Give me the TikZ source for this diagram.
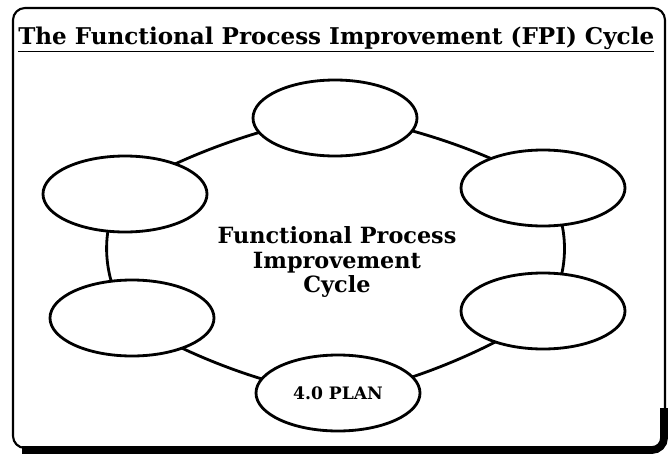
\documentclass[tikz,border=0pt]{standalone}
\usepackage{fontspec}
\setmainfont{DejaVu Serif}
\usetikzlibrary{shapes.geometric,backgrounds}
\begin{document}
\begin{tikzpicture}[
	stage/.style={ellipse,draw,line width=2pt,fill=white,minimum width=4.1cm,minimum height=1.9cm,inner sep=0pt,font=\bfseries\fontsize{12.2}{14}\selectfont},
	ring/.style={line width=2pt},
	frame/.style={line width=1.5pt,rounded corners=0.3cm}]
		\useasboundingbox (0,0) rectangle (16.725,-11.375);
		\draw[frame] (0.325,-0.2) rectangle (16.625,-11.2);
		\draw[line width=5.5pt,rounded corners=0.3cm] (0.55,-11.25) -- (16.6,-11.25) -- (16.6,-10.2);
		
		\node[anchor=base west,inner sep=0pt,font=\bfseries\fontsize{16.4}{18}\selectfont] (title) at (0.45,-1.1) {\underline{The Functional Process Improvement (FPI) Cycle}};
		
		\node[stage] (top) at (8.375,-2.95) {};
		\node[stage] (ur) at (13.575,-4.7) {};
		\node[stage] (lr) at (13.575,-7.775) {};
		\node[stage] (bot) at (8.45,-9.825) {4.0 PLAN};
		\node[stage] (ll) at (3.3,-7.95) {};
		\node[stage] (ul) at (3.125,-4.85) {};
		
		\node[align=center,font=\bfseries\fontsize{15.9}{17.7}\selectfont] (cycle) at (8.425,-6.55) {Functional Process\\Improvement\\Cycle};
		
		\begin{scope}[on background layer]
		\draw[ring] plot[smooth cycle] coordinates {(top.center) (ur.center) (lr.center) (bot.center) (ll.center) (ul.center)};
		\end{scope}
		
\end{tikzpicture}
\end{document}
